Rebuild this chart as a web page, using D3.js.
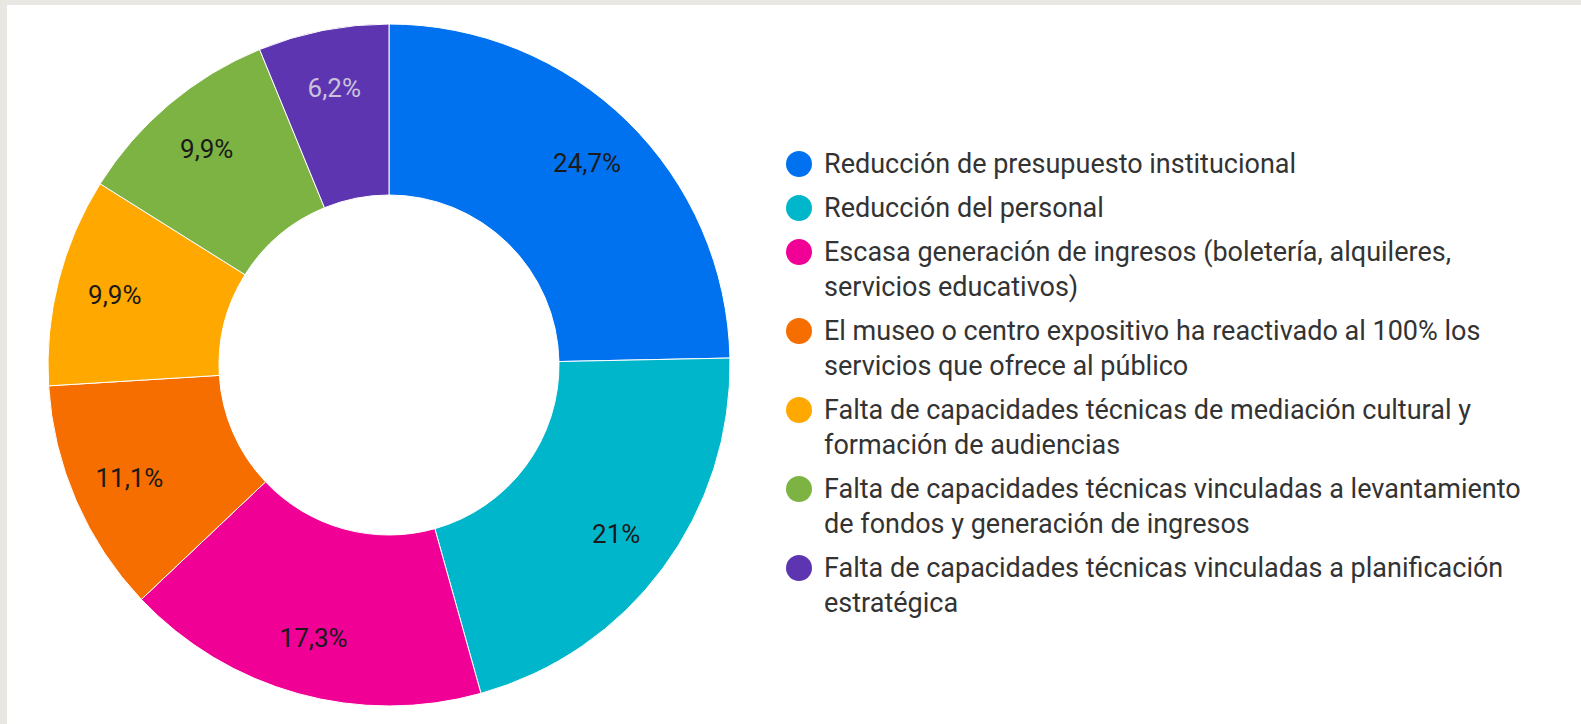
<!DOCTYPE html>
<html>
<head>
<meta charset="utf-8">
<script src="https://cdn.jsdelivr.net/npm/d3@7"></script>
<style>
    body { margin: 0; background: #e9e7e1; }
    #frame { position: absolute; left: 7px; top: 5px; width: 1574px; height: 719px; background: #fff; }
    svg { display: block; font-family: Roboto, sans-serif; }
</style>
</head>
<body>
<div id="frame"></div>
<script>
// chart data
var categories = [
    ["Reducción de presupuesto institucional"],
    ["Reducción del personal"],
    ["Escasa generación de ingresos (boletería, alquileres,", "servicios educativos)"],
    ["El museo o centro expositivo ha reactivado al 100% los", "servicios que ofrece al público"],
    ["Falta de capacidades técnicas de mediación cultural y", "formación de audiencias"],
    ["Falta de capacidades técnicas vinculadas a levantamiento", "de fondos y generación de ingresos"],
    ["Falta de capacidades técnicas vinculadas a planificación", "estratégica"]
];
var values = [24.7, 21, 17.3, 11.1, 9.9, 9.9, 6.2];
var colors = ["#0072f0", "#00b6cb", "#f10096", "#f66d00", "#ffa800", "#7cb342", "#5e35b1"];

// sizes (frame is offset 7px left, 5px top)
var fullWidth = 1574;
var fullHeight = 719;
var cx = 382, cy = 360;
var outerR = 341, innerR = 170, labelR = 283;

var svg = d3.select("#frame")
            .append("svg")
            .attr("width", fullWidth)
            .attr("height", fullHeight);

var pie = d3.pie().sort(null).value(function(d) { return d; });
var arcs = pie(values);

var arc = d3.arc().innerRadius(innerR).outerRadius(outerR);
var labelArc = d3.arc().innerRadius(labelR).outerRadius(labelR);

var g = svg.append("g")
           .attr("transform", "translate(" + cx + "," + cy + ")");

// draw slices
g.selectAll("path")
 .data(arcs)
 .enter()
 .append("path")
 .attr("d", arc)
 .attr("fill", function(d, i) { return colors[i]; })
 .attr("stroke", "#fff")
 .attr("stroke-width", 1);

// slice labels
var fmt = function(v) { return String(v).replace(".", ",") + "%"; };
g.selectAll(".sliceLabel")
 .data(arcs)
 .enter()
 .append("text")
 .attr("class", "sliceLabel")
 .attr("transform", function(d) { return "translate(" + labelArc.centroid(d) + ")"; })
 .attr("text-anchor", "middle")
 .attr("dy", "0.36em")
 .style("font-size", "26px")
 .style("fill", function(d, i) { return i == 6 ? "#c9c3d9" : "#1a1a1a"; })
 .text(function(d) { return fmt(d.data); });

var legX = 792, legY = 159, lineH = 35, itemGap = 44;
var ys = [];
var y = legY;
for (let i = 0; i < categories.length; i++) {
    ys.push(y);
    y += itemGap + (categories[i].length - 1) * lineH;
}

var legend = svg.selectAll(".legend")
                .data(categories)
                .enter()
                .append("g")
                .attr("class", "legend")
                .attr("transform", function(d, i) { return "translate(" + legX + "," + ys[i] + ")"; });

legend.append("circle")
      .attr("r", 13)
      .attr("cx", 0)
      .attr("cy", 0)
      .attr("fill", function(d, i) { return colors[i]; });

legend.append("text")
      .attr("x", 25)
      .attr("y", 9)
      .style("font-size", "27px")
      .style("fill", "#333")
      .selectAll("tspan")
      .data(function(d) { return d; })
      .enter()
      .append("tspan")
      .attr("x", 25)
      .attr("dy", function(d, i) { return i == 0 ? 0 : lineH; })
      .text(function(d) { return d; });
</script>
</body>
</html>
